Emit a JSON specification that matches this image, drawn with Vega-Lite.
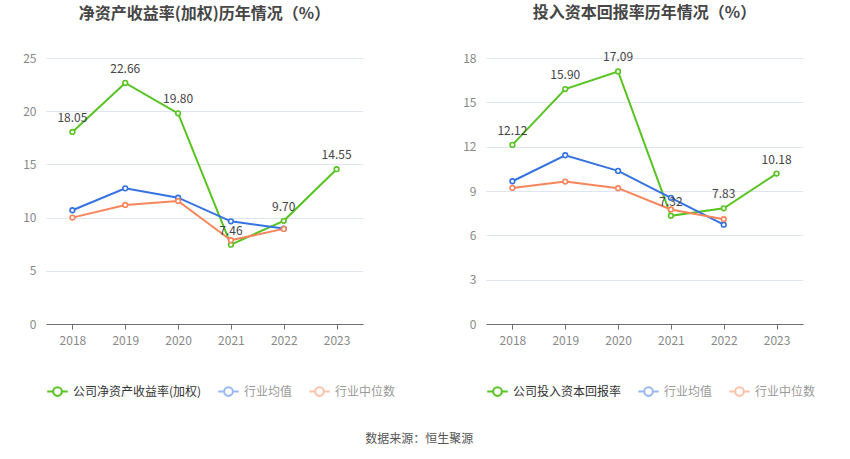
{
  "$schema": "https://vega.github.io/schema/vega-lite/v6.json",
  "autosize": "pad",
  "padding": {"left": 22, "top": 5, "right": 20, "bottom": 4},
  "background": "white",
  "datasets": {
    "roe": [
      {"series": "公司净资产收益率(加权)", "year": "2018", "value": 18.05},
      {"series": "公司净资产收益率(加权)", "year": "2019", "value": 22.66},
      {"series": "公司净资产收益率(加权)", "year": "2020", "value": 19.80},
      {"series": "公司净资产收益率(加权)", "year": "2021", "value": 7.46},
      {"series": "公司净资产收益率(加权)", "year": "2022", "value": 9.70},
      {"series": "公司净资产收益率(加权)", "year": "2023", "value": 14.55},
      {"series": "行业均值", "year": "2018", "value": 10.69},
      {"series": "行业均值", "year": "2019", "value": 12.75},
      {"series": "行业均值", "year": "2020", "value": 11.87},
      {"series": "行业均值", "year": "2021", "value": 9.65},
      {"series": "行业均值", "year": "2022", "value": 8.97},
      {"series": "行业中位数", "year": "2018", "value": 10.0},
      {"series": "行业中位数", "year": "2019", "value": 11.19},
      {"series": "行业中位数", "year": "2020", "value": 11.56},
      {"series": "行业中位数", "year": "2021", "value": 7.87},
      {"series": "行业中位数", "year": "2022", "value": 8.94}
    ],
    "roic": [
      {"series": "公司投入资本回报率", "year": "2018", "value": 12.12},
      {"series": "公司投入资本回报率", "year": "2019", "value": 15.90},
      {"series": "公司投入资本回报率", "year": "2020", "value": 17.09},
      {"series": "公司投入资本回报率", "year": "2021", "value": 7.32},
      {"series": "公司投入资本回报率", "year": "2022", "value": 7.83},
      {"series": "公司投入资本回报率", "year": "2023", "value": 10.18},
      {"series": "行业均值", "year": "2018", "value": 9.66},
      {"series": "行业均值", "year": "2019", "value": 11.42},
      {"series": "行业均值", "year": "2020", "value": 10.36},
      {"series": "行业均值", "year": "2021", "value": 8.54},
      {"series": "行业均值", "year": "2022", "value": 6.72},
      {"series": "行业中位数", "year": "2018", "value": 9.21},
      {"series": "行业中位数", "year": "2019", "value": 9.64},
      {"series": "行业中位数", "year": "2020", "value": 9.19},
      {"series": "行业中位数", "year": "2021", "value": 7.75},
      {"series": "行业中位数", "year": "2022", "value": 7.09}
    ]
  },
  "title": {
    "text": "数据来源：恒生聚源",
    "orient": "bottom",
    "anchor": "middle",
    "fontSize": 12,
    "fontWeight": "normal",
    "color": "#555",
    "offset": 34
  },
  "spacing": 66,
  "resolve": {"scale": {"color": "independent", "y": "independent"}},
  "hconcat": [
    {
      "width": 317,
      "height": 266,
      "data": {"name": "roe"},
      "title": {"text": "净资产收益率(加权)历年情况（%）"},
      "encoding": {
        "x": {"field": "year", "type": "ordinal", "title": null},
        "y": {
          "field": "value",
          "type": "quantitative",
          "title": null,
          "scale": {"domain": [0, 25]},
          "axis": {"values": [0, 5, 10, 15, 20, 25]}
        }
      },
      "layer": [
        {
          "mark": {"type": "line", "strokeWidth": 2},
          "encoding": {
            "color": {
              "field": "series",
              "type": "nominal",
              "scale": {
                "domain": ["公司净资产收益率(加权)", "行业均值", "行业中位数"],
                "range": ["#58c322", "#3572e2", "#f7845a"]
              },
              "legend": {
                "title": null,
                "encode": {
                  "symbols": {"update": {"opacity": {"signal": "datum.index === 0 ? 1 : 0.5"}, "fill": {"value": "white"}}},
                  "labels": {"update": {"fill": {"signal": "datum.index === 0 ? '#333' : '#999'"}}}
                }
              }
            }
          }
        },
        {
          "mark": {"type": "point", "filled": true, "fill": "white", "size": 22, "strokeWidth": 1.6, "opacity": 1},
          "encoding": {
            "stroke": {"field": "series", "type": "nominal", "legend": null,
              "scale": {"domain": ["公司净资产收益率(加权)", "行业均值", "行业中位数"], "range": ["#58c322", "#3572e2", "#f7845a"]}}
          }
        },
        {
          "transform": [{"filter": "datum.series === '公司净资产收益率(加权)'"}],
          "mark": {"type": "text", "dy": -14, "fontSize": 12, "color": "#444"},
          "encoding": {"text": {"field": "value", "type": "quantitative", "format": ".2f"}}
        }
      ]
    },
    {
      "width": 317,
      "height": 266,
      "data": {"name": "roic"},
      "title": {"text": "投入资本回报率历年情况（%）"},
      "encoding": {
        "x": {"field": "year", "type": "ordinal", "title": null},
        "y": {
          "field": "value",
          "type": "quantitative",
          "title": null,
          "scale": {"domain": [0, 18]},
          "axis": {"values": [0, 3, 6, 9, 12, 15, 18]}
        }
      },
      "layer": [
        {
          "mark": {"type": "line", "strokeWidth": 2},
          "encoding": {
            "color": {
              "field": "series",
              "type": "nominal",
              "scale": {
                "domain": ["公司投入资本回报率", "行业均值", "行业中位数"],
                "range": ["#58c322", "#3572e2", "#f7845a"]
              },
              "legend": {
                "title": null,
                "encode": {
                  "symbols": {"update": {"opacity": {"signal": "datum.index === 0 ? 1 : 0.5"}, "fill": {"value": "white"}}},
                  "labels": {"update": {"fill": {"signal": "datum.index === 0 ? '#333' : '#999'"}}}
                }
              }
            }
          }
        },
        {
          "mark": {"type": "point", "filled": true, "fill": "white", "size": 22, "strokeWidth": 1.6, "opacity": 1},
          "encoding": {
            "stroke": {"field": "series", "type": "nominal", "legend": null,
              "scale": {"domain": ["公司投入资本回报率", "行业均值", "行业中位数"], "range": ["#58c322", "#3572e2", "#f7845a"]}}
          }
        },
        {
          "transform": [{"filter": "datum.series === '公司投入资本回报率'"}],
          "mark": {"type": "text", "dy": -14, "fontSize": 12, "color": "#444"},
          "encoding": {"text": {"field": "value", "type": "quantitative", "format": ".2f"}}
        }
      ]
    }
  ],
  "config": {
    "font": "Noto Sans CJK SC",
    "view": {"stroke": null},
    "title": {"fontSize": 16, "fontWeight": "bold", "color": "#464646", "offset": 30, "anchor": "middle"},
    "axisX": {
      "labelAngle": 0,
      "labelColor": "#888",
      "labelFontSize": 12,
      "labelPadding": 6,
      "domainColor": "#6e7079",
      "tickColor": "#6e7079",
      "tickBand": "extent",
      "grid": false
    },
    "axisY": {
      "labelColor": "#888",
      "labelFontSize": 12,
      "labelPadding": 10,
      "domain": false,
      "ticks": false,
      "gridColor": "#e0e6f1"
    },
    "legend": {
      "orient": "bottom",
      "direction": "horizontal",
      "offset": 34,
      "labelFontSize": 12,
      "labelColor": "#333",
      "columnPadding": 12,
      "symbolType": "M-1,0L-0.42,0M0.42,0L1,0M-0.42,0A0.42,0.42,0,1,1,0.42,0A0.42,0.42,0,1,1,-0.42,0",
      "symbolSize": 420,
      "symbolStrokeWidth": 2,
      "symbolFillColor": "white"
    }
  }
}
